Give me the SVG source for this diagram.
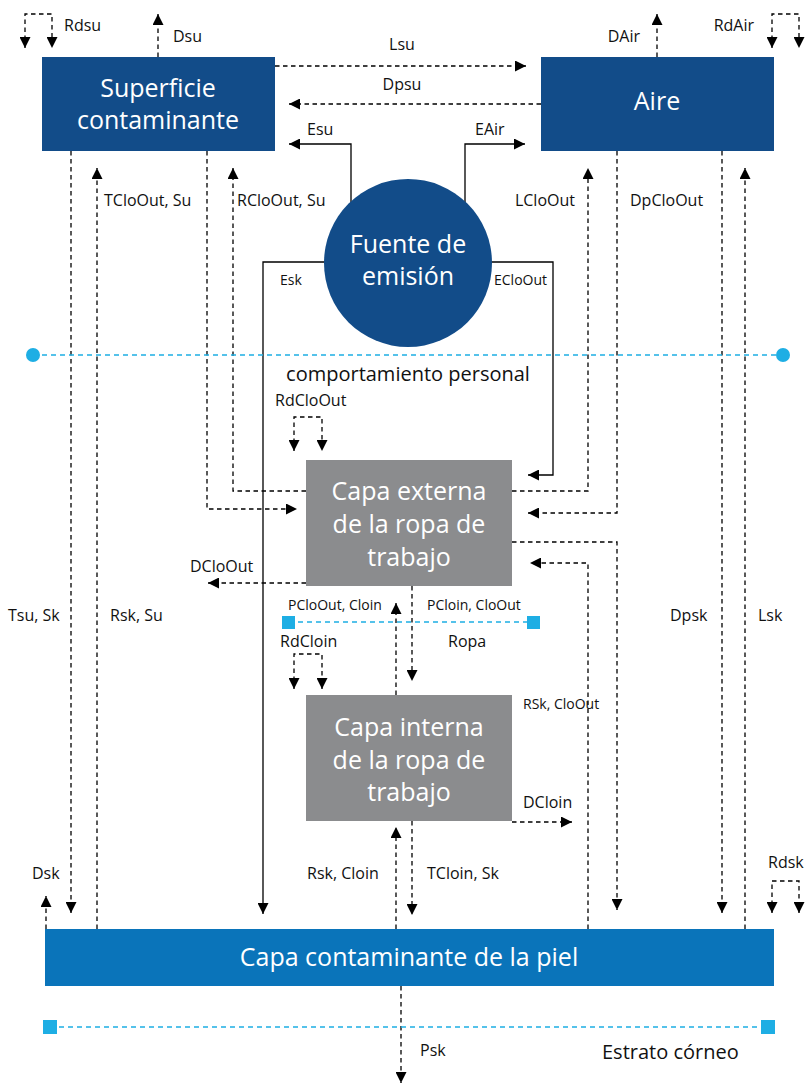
<svg xmlns="http://www.w3.org/2000/svg" width="807" height="1085" viewBox="0 0 807 1085">
<defs>
<marker id="ah" viewBox="0 0 10 10" refX="10" refY="5" markerWidth="11" markerHeight="11" markerUnits="userSpaceOnUse" orient="auto-start-reverse">
<path d="M0,0 L10,5 L0,10 z" fill="#000"/>
</marker>
<style>
.d{fill:none;stroke:#000;stroke-width:1.3;stroke-dasharray:4.5 3.5}
.s{fill:none;stroke:#000;stroke-width:1.3}
.e{marker-end:url(#ah)}
.b{marker-start:url(#ah);marker-end:url(#ah)}
.bl{fill:none;stroke:#1eaee4;stroke-width:1.6;stroke-dasharray:5 4}
.lb{font-family:"Open Sans","Liberation Sans",sans-serif;font-size:16px;fill:#111}
.sm{font-family:"Open Sans","Liberation Sans",sans-serif;font-size:14px;fill:#111}
.big{font-family:"Open Sans","Liberation Sans",sans-serif;font-size:20px;fill:#111}
.t{font-family:"Open Sans","Liberation Sans",sans-serif;font-size:25px;fill:#fff;text-anchor:middle}
.dk{fill:#124c89}
.gr{fill:#8b8c8e}
</style>
</defs>

<g id="connectors">
<path class="d b" d="M25,48 V14 H52 V48"/>
<path class="d e" d="M158,57 V14"/>
<path class="d e" d="M657,57 V14"/>
<path class="d b" d="M772,48 V14 H799 V48"/>
<path class="d e" d="M275,66 H526"/>
<path class="d e" d="M541,104 H289"/>
<path class="s e" d="M351,205 V144 H289"/>
<path class="s e" d="M465,205 V144 H525"/>
<path class="s e" d="M330,262 H263 V914"/>
<path class="s e" d="M486,262 H553 V475 H528"/>
<path class="d e" d="M71,151 V913"/>
<path class="d e" d="M97,929 V168"/>
<path class="d e" d="M306,491 H233 V168"/>
<path class="d e" d="M207,151 V509 H297"/>
<path class="d e" d="M512,491 H588 V168"/>
<path class="d e" d="M617,151 V513 H528"/>
<path class="d e" d="M722,151 V913"/>
<path class="d e" d="M745,929 V168"/>
<path class="d b" d="M772,913 V881 H799 V913"/>
<path class="d b" d="M294,451 V417 H322 V451"/>
<path class="d e" d="M306,583 H208"/>
<path class="d e" d="M588,929 V563 H530"/>
<path class="d e" d="M512,542 H617 V910"/>
<path class="d e" d="M412,586 V681"/>
<path class="d e" d="M396,695 V603"/>
<path class="d b" d="M294,689 V654 H322 V689"/>
<path class="d e" d="M512,822 H572"/>
<path class="d e" d="M396,929 V827"/>
<path class="d e" d="M412,821 V915"/>
<path class="d e" d="M46,929 V896"/>
<path class="d e" d="M401,986 V1083"/>
</g>

<g id="superficie">
<rect class="dk" x="42" y="57" width="233" height="94"/>
<text class="t" x="158" y="97">Superficie</text>
<text class="t" x="158" y="129">contaminante</text>
</g>
<g id="aire">
<rect class="dk" x="541" y="57" width="233" height="94"/>
<text class="t" x="657" y="110">Aire</text>
</g>
<g id="fuente">
<circle class="dk" cx="408" cy="263" r="84"/>
<text class="t" x="408" y="253">Fuente de</text>
<text class="t" x="408" y="285">emisión</text>
</g>
<g id="capa-externa">
<rect class="gr" x="306" y="460" width="206" height="126"/>
<text class="t" x="409" y="500">Capa externa</text>
<text class="t" x="409" y="533">de la ropa de</text>
<text class="t" x="409" y="566">trabajo</text>
</g>
<g id="capa-interna">
<rect class="gr" x="306" y="695" width="206" height="126"/>
<text class="t" x="409" y="736">Capa interna</text>
<text class="t" x="409" y="769">de la ropa de</text>
<text class="t" x="409" y="801">trabajo</text>
</g>
<g id="piel">
<rect fill="#0a74ba" x="45" y="929" width="729" height="57"/>
<text class="t" x="409" y="966">Capa contaminante de la piel</text>
</g>

<g id="comportamiento">
<path class="bl" d="M33,355 H783"/>
<circle cx="33" cy="355" r="7" fill="#1eaee4"/>
<circle cx="783" cy="355" r="7" fill="#1eaee4"/>
<text class="big" x="408" y="381" text-anchor="middle">comportamiento personal</text>
</g>
<g id="ropa">
<path class="bl" d="M289,622 H533"/>
<rect x="282" y="616" width="13" height="13" fill="#1eaee4"/>
<rect x="527" y="616" width="13" height="13" fill="#1eaee4"/>
</g>
<g id="estrato">
<path class="bl" d="M50,1027 H768"/>
<rect x="43" y="1020" width="14" height="14" fill="#1eaee4"/>
<rect x="761" y="1020" width="14" height="14" fill="#1eaee4"/>
<text class="big" x="602" y="1059">Estrato córneo</text>
</g>

<g id="labels">
<text class="lb" x="64" y="31">Rdsu</text>
<text class="lb" x="173" y="42">Dsu</text>
<text class="lb" x="640" y="42" text-anchor="end">DAir</text>
<text class="lb" x="754" y="31" text-anchor="end">RdAir</text>
<text class="lb" x="402" y="50" text-anchor="middle">Lsu</text>
<text class="lb" x="402" y="90" text-anchor="middle">Dpsu</text>
<text class="lb" x="307" y="135">Esu</text>
<text class="lb" x="475" y="135">EAir</text>
<text class="lb" x="104" y="206">TCloOut, Su</text>
<text class="lb" x="237" y="206">RCloOut, Su</text>
<text class="lb" x="575" y="206" text-anchor="end">LCloOut</text>
<text class="lb" x="630" y="206">DpCloOut</text>
<text class="sm" x="280" y="285">Esk</text>
<text class="sm" x="494" y="285">ECloOut</text>
<text class="lb" x="275" y="406">RdCloOut</text>
<text class="lb" x="190" y="572">DCloOut</text>
<text class="lb" x="8" y="621">Tsu, Sk</text>
<text class="lb" x="110" y="621">Rsk, Su</text>
<text class="lb" x="670" y="621">Dpsk</text>
<text class="lb" x="758" y="621">Lsk</text>
<text class="sm" x="288" y="610">PCloOut, Cloin</text>
<text class="sm" x="427" y="610">PCloin, CloOut</text>
<text class="lb" x="280" y="647">RdCloin</text>
<text class="lb" x="448" y="647">Ropa</text>
<text class="sm" x="523" y="709">RSk, CloOut</text>
<text class="lb" x="523" y="808">DCloin</text>
<text class="lb" x="32" y="879">Dsk</text>
<text class="lb" x="307" y="879">Rsk, Cloin</text>
<text class="lb" x="427" y="879">TCloin, Sk</text>
<text class="lb" x="768" y="868">Rdsk</text>
<text class="lb" x="420" y="1056">Psk</text>
</g>
</svg>
